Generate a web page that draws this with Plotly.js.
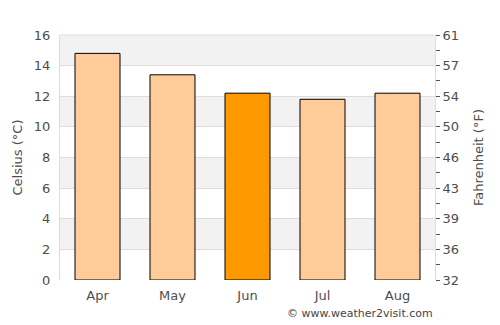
<!DOCTYPE html>
<html>
<head>
<meta charset="utf-8">
<script src="https://cdn.plot.ly/plotly-3.0.1.min.js"></script>
<style>html,body{margin:0;padding:0;background:#fff;}#chart{width:500px;height:325px;}</style>
</head>
<body>
<div id="chart"></div>
<script>
const months = ["Apr", "May", "Jun", "Jul", "Aug"];
const celsius = [14.8, 13.4, 12.2, 11.8, 12.2];
const highlightMonth = "Jun";
const celsiusTicks = [0, 2, 4, 6, 8, 10, 12, 14, 16];
const fahrenheitLabels = ["32", "36", "39", "43", "46", "50", "54", "57", "61"];

const toF = c => c * 1.8 + 32;
const colors = months.map(m => m === highlightMonth ? "#ff9900" : "#ffcc99");

// alternating bands
const shapes = [];
for (let i = 0; i < celsiusTicks.length - 1; i++) {
  if (i % 2 === 1) {
    shapes.push({type: "rect", xref: "paper", yref: "y", x0: 0, x1: 1,
      y0: celsiusTicks[i], y1: celsiusTicks[i + 1],
      fillcolor: "#f2f2f2", line: {width: 0}, layer: "below"});
  }
}

// right axis ticks at every 1 °C, labelled every 2 °C
const fTickVals = [], fTickText = [];
for (let c = 0; c <= 16; c++) {
  fTickVals.push(toF(c));
  fTickText.push(c % 2 === 0 ? fahrenheitLabels[c / 2] : "");
}

const font = {family: "DejaVu Sans, sans-serif", size: 13, color: "#4d4d4d"};

const data = [
  {type: "bar", x: months, y: celsius, width: 0.6,
   marker: {color: colors, line: {color: "#000", width: 1}},
   hoverinfo: "skip"},
  {type: "scatter", x: months, y: celsius.map(toF), yaxis: "y2",
   mode: "markers", marker: {opacity: 0}, hoverinfo: "skip", showlegend: false}
];

const layout = {
  width: 500, height: 325,
  margin: {l: 60, r: 65, t: 35, b: 45},
  paper_bgcolor: "#fff", plot_bgcolor: "#fff",
  showlegend: false,
  font: font,
  bargap: 0.4,
  shapes: shapes,
  xaxis: {type: "category", showgrid: false, zeroline: false,
    showline: false, ticks: "", tickfont: font, range: [-0.5, 4.5],
    ticklabelstandoff: 6},
  yaxis: {range: [0, 16], tickvals: celsiusTicks, showgrid: true,
    gridcolor: "#dddddd", gridwidth: 1, zeroline: false, ticks: "",
    showline: true, linecolor: "#dddddd", linewidth: 1,
    tickfont: font, ticklabelstandoff: 6,
    title: {text: "Celsius (°C)", font: font, standoff: 8}},
  yaxis2: {overlaying: "y", side: "right", range: [toF(0), toF(16)],
    tickmode: "array", tickvals: fTickVals, ticktext: fTickText,
    ticks: "outside", ticklen: 4, tickcolor: "#555", tickwidth: 1,
    showgrid: false, zeroline: false, showline: true, linecolor: "#dddddd",
    tickfont: font,
    title: {text: "Fahrenheit (°F)", font: font, standoff: 15}},
  annotations: [{text: "© www.weather2visit.com", xref: "paper", yref: "paper",
    x: 1, y: 0, yshift: -25, xanchor: "right", yanchor: "top", showarrow: false,
    font: {family: "DejaVu Sans, sans-serif", size: 11, color: "#444"}}]
};

// top border
layout.shapes.push({type: "line", xref: "paper", yref: "paper", x0: 0, x1: 1,
  y0: 1, y1: 1, line: {color: "#dddddd", width: 1}});

Plotly.newPlot("chart", data, layout, {displayModeBar: false, staticPlot: true});
</script>
</body>
</html>
